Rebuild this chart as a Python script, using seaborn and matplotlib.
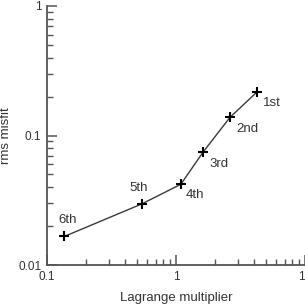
import matplotlib
matplotlib.use("Agg")
import matplotlib.pyplot as plt
import seaborn as sns
import pandas as pd
from matplotlib.ticker import LogLocator, NullFormatter, FixedFormatter, FixedLocator

lagrange = [4.27, 2.62, 1.63, 1.09, 0.542, 0.136]
misfit = [0.218, 0.138, 0.075, 0.042, 0.0296, 0.0166]
labels = ["1st", "2nd", "3rd", "4th", "5th", "6th"]
label_offsets = [(15, -11), (17, -12), (16, -12), (14, -11), (-3, 16), (3, 16)]
xticks = [0.1, 1, 10]
xticklabels = ["0.1", "1", "10"]
yticks = [0.01, 0.1, 1]
yticklabels = ["0.01", "0.1", "1"]

sns.set_style("ticks")
plt.rcParams['font.family'] = ['Liberation Sans', 'DejaVu Sans']

df = pd.DataFrame({"x": lagrange, "y": misfit})

fig = plt.figure(figsize=(3.05, 3.05), dpi=100)
ax = fig.add_axes([47/305, 40/305, 258/305, 259/305])

sns.lineplot(data=df, x="x", y="y", ax=ax, color="#3a3a3a", linewidth=1.0,
             sort=False, estimator=None)
ax.plot(df["x"], df["y"], linestyle="none", marker="+", color="black",
        markersize=6.5, markeredgewidth=1.5)

ax.set_xscale("log")
ax.set_yscale("log")
ax.set_xlim(0.1, 10)
ax.set_ylim(0.01, 1)

ax.xaxis.set_major_locator(FixedLocator(xticks))
ax.xaxis.set_major_formatter(FixedFormatter(xticklabels))
ax.yaxis.set_major_locator(FixedLocator(yticks))
ax.yaxis.set_major_formatter(FixedFormatter(yticklabels))
ax.xaxis.set_minor_locator(LogLocator(base=10, subs=range(2, 10)))
ax.yaxis.set_minor_locator(LogLocator(base=10, subs=range(2, 10)))
ax.xaxis.set_minor_formatter(NullFormatter())
ax.yaxis.set_minor_formatter(NullFormatter())

ax.tick_params(which="major", direction="in", length=7, width=1.1, color="#555555",
               labelsize=8.5, labelcolor="#333333", pad=4)
ax.tick_params(which="minor", direction="in", length=4.5, width=1.0, color="#555555")

sns.despine(ax=ax)
for s in ["left", "bottom"]:
    ax.spines[s].set_color("#555555")
    ax.spines[s].set_linewidth(1.3)

for xv, yv, lab, off in zip(lagrange, misfit, labels, label_offsets):
    ax.annotate(lab, (xv, yv), xytext=(off[0] * 0.72, off[1] * 0.72),
                textcoords="offset points", ha="center", va="center",
                fontsize=9.5, color="#333333")

ax.set_xlabel("Lagrange multiplier", fontsize=9.5, color="#333333")
ax.set_ylabel("rms misfit", fontsize=9.5, color="#333333")
ax.xaxis.set_label_coords(0.5, -0.105)
ax.yaxis.set_label_coords(-0.135, 0.5)

fig.savefig("out.png", dpi=100)
